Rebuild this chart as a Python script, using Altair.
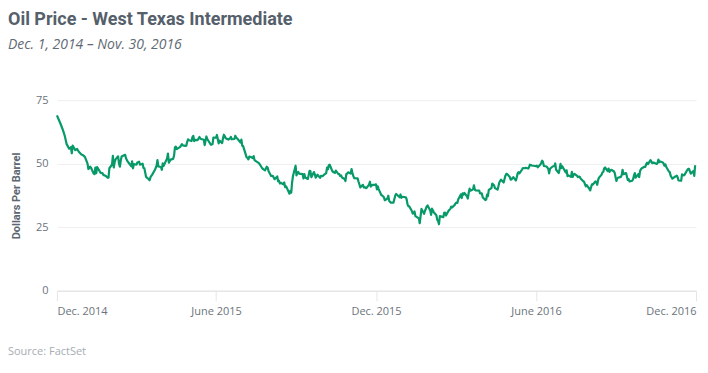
import altair as alt
import pandas as pd

# WTI daily closes, grouped by month
months = ["2014-12", "2015-01", "2015-02", "2015-03", "2015-04", "2015-05", "2015-06",
          "2015-07", "2015-08", "2015-09", "2015-10", "2015-11", "2015-12", "2016-01",
          "2016-02", "2016-03", "2016-04", "2016-05", "2016-06", "2016-07", "2016-08",
          "2016-09", "2016-10", "2016-11"]

days = [
    [1, 3, 5, 8, 10, 12, 15, 16, 17, 18, 19, 22, 24, 26, 29, 31],
    [2, 5, 6, 8, 9, 12, 13, 14, 15, 16, 20, 22, 23, 26, 28, 29, 30],
    [2, 3, 4, 5, 6, 9, 10, 11, 12, 13, 17, 18, 20, 23, 24, 25, 26, 27],
    [2, 3, 5, 6, 9, 10, 11, 13, 16, 17, 18, 20, 23, 25, 26, 27, 30, 31],
    [1, 2, 6, 7, 8, 10, 13, 14, 15, 16, 17, 21, 23, 24, 27, 28, 29, 30],
    [1, 4, 5, 6, 7, 8, 11, 13, 14, 15, 18, 19, 20, 21, 22, 26, 27, 28, 29],
    [1, 2, 3, 4, 5, 8, 9, 10, 11, 12, 15, 17, 18, 19, 22, 23, 24, 26, 29, 30],
    [1, 2, 6, 7, 8, 9, 10, 13, 14, 15, 17, 20, 22, 24, 27, 28, 29, 30, 31],
    [3, 5, 7, 10, 11, 12, 13, 14, 17, 18, 19, 20, 21, 24, 25, 26, 27, 28, 31],
    [1, 2, 3, 4, 8, 9, 10, 11, 14, 15, 16, 17, 18, 21, 22, 23, 24, 25, 28, 29, 30],
    [1, 2, 5, 6, 7, 8, 9, 12, 13, 14, 15, 16, 19, 20, 21, 22, 23, 26, 27, 28, 29, 30],
    [2, 3, 4, 5, 6, 9, 10, 11, 12, 13, 16, 17, 18, 19, 20, 23, 24, 25, 27, 30],
    [1, 2, 3, 4, 7, 8, 9, 10, 11, 14, 15, 16, 17, 18, 21, 22, 23, 24, 28, 29, 30, 31],
    [4, 5, 6, 7, 8, 11, 12, 13, 14, 15, 19, 20, 21, 22, 25, 26, 27, 28, 29],
    [1, 2, 3, 4, 5, 8, 9, 10, 11, 12, 16, 17, 18, 19, 22, 23, 24, 25, 26, 29],
    [1, 2, 3, 4, 7, 8, 9, 10, 11, 14, 15, 16, 17, 18, 21, 22, 23, 24, 28, 29, 30, 31],
    [1, 4, 5, 6, 7, 8, 11, 12, 13, 14, 15, 18, 19, 20, 21, 22, 25, 26, 27, 28, 29],
    [2, 3, 4, 5, 6, 9, 10, 11, 12, 13, 16, 17, 18, 19, 20, 23, 24, 25, 26, 27, 31],
    [1, 2, 3, 6, 7, 8, 9, 10, 13, 14, 15, 16, 17, 20, 21, 22, 23, 24, 27, 28, 29, 30],
    [1, 5, 6, 7, 8, 11, 12, 13, 14, 15, 18, 19, 20, 21, 22, 25, 26, 27, 28, 29],
    [1, 2, 3, 4, 5, 8, 9, 10, 11, 12, 15, 16, 17, 18, 19, 22, 23, 24, 25, 26, 29, 30, 31],
    [1, 2, 6, 7, 8, 9, 12, 13, 14, 15, 16, 19, 20, 21, 22, 23, 26, 27, 28, 29, 30],
    [3, 4, 5, 6, 7, 10, 11, 12, 13, 14, 17, 18, 19, 20, 21, 24, 25, 26, 27, 28, 31],
    [1, 2, 3, 4, 7, 8, 9, 10, 11, 14, 15, 16, 17, 18, 21, 22, 23, 25, 28, 29, 30],
]

prices = [
    [69.0, 67.4, 65.8, 63.1, 60.9, 57.8, 55.9, 55.9, 56.5, 54.1, 57.1, 55.3, 55.8, 54.7, 53.6, 53.3],
    [52.7, 50.0, 47.9, 48.8, 48.4, 46.1, 45.9, 48.5, 46.3, 48.7, 46.4, 46.3, 45.6, 45.2, 44.5, 44.5, 48.2],
    [49.6, 53.1, 48.5, 50.5, 51.7, 52.9, 50.0, 48.8, 51.2, 52.8, 53.5, 52.1, 50.8, 49.5, 49.0, 50.9, 48.2, 49.8],
    [49.6, 50.5, 50.8, 49.6, 50.0, 48.3, 48.2, 44.8, 43.9, 43.5, 44.7, 45.7, 47.5, 49.2, 51.4, 48.9, 48.7, 47.6],
    [50.1, 49.1, 52.1, 54.0, 50.4, 51.6, 51.9, 53.3, 56.4, 56.7, 55.7, 56.6, 57.7, 57.2, 57.0, 57.1, 58.6, 59.6],
    [59.2, 58.9, 60.4, 60.9, 58.9, 59.4, 59.3, 60.5, 59.9, 59.7, 59.4, 57.3, 59.0, 60.7, 59.7, 57.5, 57.5, 57.7, 60.3],
    [60.2, 61.3, 59.6, 58.0, 59.1, 58.1, 60.1, 61.4, 60.8, 60.0, 59.5, 60.0, 60.5, 59.6, 59.7, 61.0, 60.3, 59.6, 58.3, 59.5],
    [57.0, 56.9, 52.5, 52.3, 51.7, 52.8, 52.7, 52.2, 53.0, 51.4, 50.9, 50.2, 49.2, 48.1, 47.4, 48.0, 48.8, 48.5, 47.1],
    [45.2, 45.2, 43.9, 45.0, 43.1, 43.3, 42.2, 42.5, 41.9, 42.6, 40.8, 41.1, 40.5, 38.2, 39.3, 38.6, 42.6, 45.2, 49.2],
    [45.4, 46.3, 46.8, 46.1, 45.9, 44.2, 45.9, 44.6, 44.0, 45.6, 47.2, 47.0, 44.7, 46.7, 45.8, 44.5, 45.0, 45.7, 44.4, 45.2, 45.1],
    [45.1, 45.5, 46.3, 48.5, 47.8, 49.4, 49.6, 47.1, 46.7, 46.6, 46.4, 47.3, 45.9, 45.9, 45.2, 45.4, 44.6, 44.0, 43.2, 45.9, 46.1, 46.6],
    [46.1, 47.9, 46.3, 45.2, 44.3, 44.2, 44.2, 42.9, 41.8, 40.7, 41.7, 40.7, 40.8, 40.5, 40.4, 41.8, 42.9, 41.0, 41.7, 41.7],
    [41.9, 39.9, 41.1, 40.0, 37.7, 37.5, 37.2, 36.8, 35.6, 36.3, 37.4, 35.5, 35.0, 34.7, 34.7, 36.1, 37.5, 38.1, 36.8, 37.9, 36.6, 37.0],
    [36.8, 36.0, 34.0, 33.3, 33.2, 31.4, 30.4, 30.5, 31.2, 29.4, 28.5, 26.6, 29.5, 32.2, 30.3, 31.5, 32.3, 33.2, 33.6],
    [31.6, 29.9, 32.3, 31.7, 30.9, 29.7, 27.9, 27.5, 26.2, 29.4, 29.0, 30.7, 30.8, 29.6, 31.5, 31.9, 32.2, 33.1, 32.8, 33.8],
    [34.4, 34.7, 34.6, 35.9, 37.9, 36.5, 38.3, 37.8, 38.5, 37.2, 36.3, 38.5, 40.2, 39.4, 39.9, 41.5, 39.8, 39.5, 39.4, 38.3, 38.3, 38.3],
    [36.8, 35.7, 35.9, 37.8, 37.3, 39.7, 40.4, 42.2, 41.8, 41.5, 40.4, 39.8, 41.1, 42.6, 43.2, 43.7, 42.6, 44.0, 45.3, 46.0, 45.9],
    [44.8, 43.7, 43.8, 44.3, 44.7, 43.4, 44.7, 46.2, 46.7, 46.2, 47.7, 48.3, 48.2, 48.2, 48.4, 48.1, 48.6, 49.6, 49.5, 49.3, 49.1],
    [49.0, 49.2, 48.6, 49.7, 50.4, 51.2, 50.6, 49.1, 48.9, 48.5, 48.0, 46.2, 48.0, 48.9, 49.0, 49.1, 50.1, 47.6, 46.3, 47.9, 49.9, 48.3],
    [49.0, 46.6, 47.4, 45.1, 45.4, 44.8, 46.8, 44.8, 45.7, 46.0, 45.2, 44.7, 44.9, 44.8, 44.2, 43.1, 42.9, 41.9, 41.1, 41.6],
    [40.1, 39.5, 40.8, 41.9, 41.8, 43.0, 42.8, 41.7, 43.5, 44.5, 45.7, 46.6, 46.8, 48.2, 48.5, 47.1, 48.1, 46.8, 47.3, 47.6, 47.0, 46.4, 44.7],
    [43.2, 44.4, 44.8, 45.5, 47.6, 45.9, 46.3, 44.9, 43.6, 43.9, 43.0, 43.3, 43.9, 45.3, 46.3, 44.5, 45.9, 44.7, 47.1, 47.8, 48.2],
    [48.8, 48.7, 49.8, 50.4, 49.8, 51.4, 50.8, 50.2, 50.4, 50.4, 49.9, 50.3, 51.6, 50.6, 50.9, 50.5, 50.0, 49.2, 49.7, 48.7, 46.9],
    [46.7, 45.3, 44.7, 44.1, 44.9, 45.0, 45.3, 44.7, 43.4, 43.3, 45.8, 45.6, 45.4, 45.7, 47.5, 48.0, 48.0, 46.1, 47.1, 45.2, 49.4],
]

y_ticks = [0, 25, 50, 75]
title_text = "Oil Price - West Texas Intermediate"
subtitle_text = "Dec. 1, 2014 \u2013 Nov. 30, 2016"
source_text = "Source: FactSet"

rows = []
for m, ds, ps in zip(months, days, prices):
    assert len(ds) == len(ps), m
    for d, p in zip(ds, ps):
        rows.append({"date": f"{m}-{d:02d}", "price": p})
df = pd.DataFrame(rows)

W, H = 640, 191
GREEN = "#079a68"

tick_vals = [
    alt.DateTime(year=2014, month=12, date=1, utc=True),
    alt.DateTime(year=2015, month=6, date=1, utc=True),
    alt.DateTime(year=2015, month=12, date=1, utc=True),
    alt.DateTime(year=2016, month=6, date=1, utc=True),
    alt.DateTime(year=2016, month=12, date=1, utc=True),
]

line = alt.Chart(df).mark_line(color=GREEN, strokeWidth=2.2, strokeJoin="round").encode(
    x=alt.X(
        "date:T",
        scale=alt.Scale(type="utc", domain=[tick_vals[0], tick_vals[-1]]),
        axis=alt.Axis(
            values=tick_vals,
            title=None,
            grid=False,
            domainColor="#e6e6e6",
            domainWidth=1.5,
            tickColor="#e6e6e6",
            tickSize=10,
            tickWidth=1,
            labelFlush=True,
            labelPadding=5,
            labelFont="Open Sans",
            labelFontSize=11,
            labelColor="#6b737b",
            labelExpr="(utcFormat(datum.value, '%m') == '12' ? 'Dec. ' : 'June ') + utcFormat(datum.value, '%Y')",
        ),
    ),
    y=alt.Y(
        "price:Q",
        scale=alt.Scale(domain=[0, 75], nice=False),
        axis=alt.Axis(
            values=y_ticks,
            title="Dollars Per Barrel",
            titleFont="Roboto",
            titleFontWeight="bold",
            titleFontSize=11,
            titleColor="#5b6670",
            titlePadding=14,
            domain=False,
            ticks=False,
            grid=True,
            gridColor="#efefef",
            labelPadding=9,
            labelFont="Open Sans",
            labelFontSize=11,
            labelColor="#6b737b",
        ),
    ),
)

source = alt.Chart(pd.DataFrame({"t": [source_text]})).mark_text(
    align="left", baseline="middle", font="Open Sans", fontSize=11, color="#a7adb2"
).encode(x=alt.value(-49), y=alt.value(H + 61), text="t:N")

chart = alt.layer(line, source).properties(
    width=W,
    height=H,
    padding={"left": 0, "top": 3, "right": 3, "bottom": 0},
    title=alt.TitleParams(
        text=title_text,
        subtitle=subtitle_text,
        anchor="start",
        frame="bounds",
        font="Roboto",
        fontSize=18,
        fontWeight="bold",
        color="#55606b",
        subtitleFont="Open Sans",
        subtitleFontStyle="italic",
        subtitleFontSize=14,
        subtitleColor="#5f6a74",
        subtitlePadding=9,
        offset=42,
    ),
).configure(background="white").configure_view(strokeWidth=0, stroke="transparent")

chart.save("out.html", embed_options={"renderer": "svg", "actions": False})
